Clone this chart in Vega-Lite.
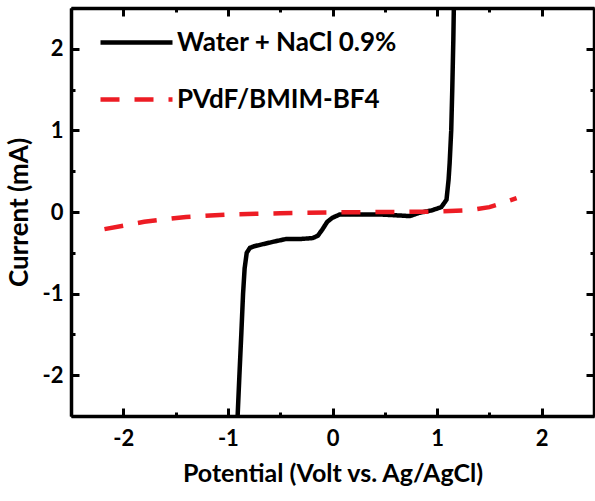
{
  "$schema": "https://vega.github.io/schema/vega-lite/v6.json",
  "autosize": "none",
  "width": 523,
  "height": 408,
  "padding": {"left": 71, "top": 8, "right": 1, "bottom": 85},
  "background": "white",
  "config": {
    "view": {"stroke": null},
    "font": "Lato",
    "axis": {
      "domainColor": "black", "domainWidth": 3.5, "tickColor": "black", "tickWidth": 3,
      "grid": false, "labelFont": "Lato", "labelFontWeight": "bold", "labelFontSize": 22, "labelColor": "black",
      "titleFont": "Lato", "titleFontWeight": "bold", "titleFontSize": 25, "titleColor": "black"
    }
  },
  "data": {"values": [
    {"s": "Water + NaCl 0.9%", "x": -0.907, "y": -2.5},
    {"s": "Water + NaCl 0.9%", "x": -0.89, "y": -2.0},
    {"s": "Water + NaCl 0.9%", "x": -0.872, "y": -1.5},
    {"s": "Water + NaCl 0.9%", "x": -0.855, "y": -1.0},
    {"s": "Water + NaCl 0.9%", "x": -0.84, "y": -0.69},
    {"s": "Water + NaCl 0.9%", "x": -0.82, "y": -0.5},
    {"s": "Water + NaCl 0.9%", "x": -0.79, "y": -0.44},
    {"s": "Water + NaCl 0.9%", "x": -0.75, "y": -0.42},
    {"s": "Water + NaCl 0.9%", "x": -0.65, "y": -0.39},
    {"s": "Water + NaCl 0.9%", "x": -0.55, "y": -0.36},
    {"s": "Water + NaCl 0.9%", "x": -0.44, "y": -0.33},
    {"s": "Water + NaCl 0.9%", "x": -0.3, "y": -0.33},
    {"s": "Water + NaCl 0.9%", "x": -0.19, "y": -0.32},
    {"s": "Water + NaCl 0.9%", "x": -0.14, "y": -0.29},
    {"s": "Water + NaCl 0.9%", "x": -0.1, "y": -0.22},
    {"s": "Water + NaCl 0.9%", "x": -0.05, "y": -0.12},
    {"s": "Water + NaCl 0.9%", "x": 0.0, "y": -0.07},
    {"s": "Water + NaCl 0.9%", "x": 0.07, "y": -0.03},
    {"s": "Water + NaCl 0.9%", "x": 0.2, "y": -0.03},
    {"s": "Water + NaCl 0.9%", "x": 0.45, "y": -0.03},
    {"s": "Water + NaCl 0.9%", "x": 0.6, "y": -0.04},
    {"s": "Water + NaCl 0.9%", "x": 0.74, "y": -0.05},
    {"s": "Water + NaCl 0.9%", "x": 0.83, "y": -0.01},
    {"s": "Water + NaCl 0.9%", "x": 0.95, "y": 0.02},
    {"s": "Water + NaCl 0.9%", "x": 1.04, "y": 0.06},
    {"s": "Water + NaCl 0.9%", "x": 1.09, "y": 0.15},
    {"s": "Water + NaCl 0.9%", "x": 1.11, "y": 0.4},
    {"s": "Water + NaCl 0.9%", "x": 1.12, "y": 0.6},
    {"s": "Water + NaCl 0.9%", "x": 1.135, "y": 1.0},
    {"s": "Water + NaCl 0.9%", "x": 1.145, "y": 1.5},
    {"s": "Water + NaCl 0.9%", "x": 1.155, "y": 2.1},
    {"s": "Water + NaCl 0.9%", "x": 1.16, "y": 2.5},
    {"s": "PVdF/BMIM-BF4", "x": -2.18, "y": -0.21},
    {"s": "PVdF/BMIM-BF4", "x": -1.8, "y": -0.12},
    {"s": "PVdF/BMIM-BF4", "x": -1.4, "y": -0.06},
    {"s": "PVdF/BMIM-BF4", "x": -1.0, "y": -0.03},
    {"s": "PVdF/BMIM-BF4", "x": -0.5, "y": -0.015},
    {"s": "PVdF/BMIM-BF4", "x": 0.0, "y": -0.005},
    {"s": "PVdF/BMIM-BF4", "x": 0.5, "y": 0.0},
    {"s": "PVdF/BMIM-BF4", "x": 1.0, "y": 0.005},
    {"s": "PVdF/BMIM-BF4", "x": 1.3, "y": 0.02},
    {"s": "PVdF/BMIM-BF4", "x": 1.5, "y": 0.06},
    {"s": "PVdF/BMIM-BF4", "x": 1.6, "y": 0.1},
    {"s": "PVdF/BMIM-BF4", "x": 1.76, "y": 0.17}
  ]},
  "layer": [
    {
      "mark": {"type": "line", "strokeWidth": 4.5, "clip": true, "strokeCap": "butt"},
      "encoding": {
        "x": {"field": "x", "type": "quantitative",
          "scale": {"domain": [-2.5, 2.5], "nice": false, "zero": false},
          "axis": {"orient": "bottom", "title": "Potential (Volt vs. Ag/AgCl)", "values": [-2.5, -2, -1.5, -1, -0.5, 0, 0.5, 1, 1.5, 2, 2.5],
            "tickSize": {"condition": {"test": "datum.value % 1 !== 0", "value": -4}, "value": -8},
            "labelExpr": "datum.value % 1 ? '' : '' + datum.value", "labelPadding": 20, "titlePadding": 12, "labelFlush": false}},
        "y": {"field": "y", "type": "quantitative",
          "scale": {"domain": [-2.5, 2.5], "nice": false, "zero": false},
          "axis": {"orient": "left", "title": "Current (mA)", "values": [-2.5, -2, -1.5, -1, -0.5, 0, 0.5, 1, 1.5, 2, 2.5],
            "tickSize": {"condition": {"test": "datum.value % 1 !== 0", "value": -4}, "value": -8},
            "labelExpr": "datum.value % 1 ? '' : '' + datum.value", "labelPadding": 16, "titlePadding": 10, "titleFontSize": 26, "labelFlush": false}},
        "color": {"field": "s", "type": "nominal",
          "scale": {"domain": ["Water + NaCl 0.9%", "PVdF/BMIM-BF4"], "range": ["black", "#ed1c24"]},
          "legend": {"title": null, "orient": "none", "legendX": 27, "legendY": -4, "padding": 0,
            "symbolType": "stroke", "symbolSize": 5184, "symbolStrokeWidth": 4.5,
            "labelFont": "Lato", "labelFontWeight": "bold", "labelFontSize": 26, "labelColor": "black",
            "labelOffset": 2, "rowPadding": 5, "labelLimit": 400}},
        "strokeDash": {"field": "s", "type": "nominal",
          "scale": {"domain": ["Water + NaCl 0.9%", "PVdF/BMIM-BF4"], "range": [[1, 0], [19, 15]]},
          "legend": {"title": null, "orient": "none", "legendX": 27, "legendY": -4, "padding": 0,
            "symbolType": "stroke", "symbolSize": 5184, "symbolStrokeWidth": 4.5,
            "labelFont": "Lato", "labelFontWeight": "bold", "labelFontSize": 26, "labelColor": "black",
            "labelOffset": 2, "rowPadding": 5, "labelLimit": 400}}
      }
    },
    {
      "mark": {"type": "point", "opacity": 0},
      "encoding": {
        "x": {"field": "x", "type": "quantitative",
          "scale": {"domain": [-2.5, 2.5], "nice": false, "zero": false},
          "axis": {"orient": "top", "title": null, "labels": false, "values": [-2.5, -2, -1.5, -1, -0.5, 0, 0.5, 1, 1.5, 2, 2.5],
            "tickSize": {"condition": {"test": "datum.value % 1 !== 0", "value": -4}, "value": -8}}},
        "y": {"field": "y", "type": "quantitative",
          "scale": {"domain": [-2.5, 2.5], "nice": false, "zero": false},
          "axis": {"orient": "right", "title": null, "labels": false, "values": [-2.5, -2, -1.5, -1, -0.5, 0, 0.5, 1, 1.5, 2, 2.5],
            "tickSize": {"condition": {"test": "datum.value % 1 !== 0", "value": -4}, "value": -8}}}
      }
    }
  ],
  "resolve": {"scale": {"x": "independent", "y": "independent"}}
}
